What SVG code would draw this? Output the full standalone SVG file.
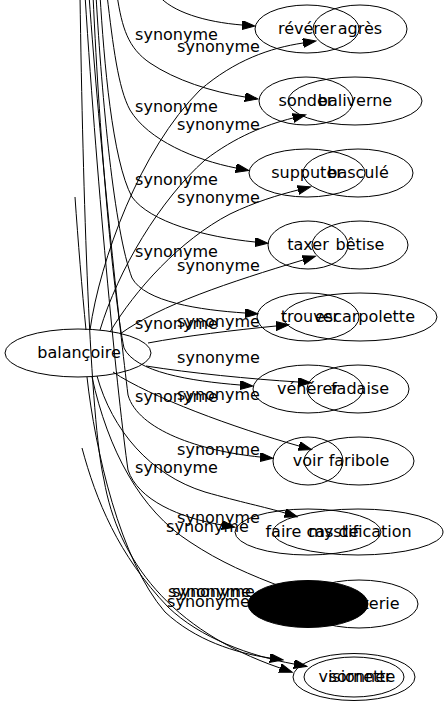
<svg xmlns="http://www.w3.org/2000/svg" width="447" height="707" viewBox="0 0 447 707">
<style>
text{font-family:"DejaVu Sans","Liberation Sans",sans-serif;font-size:16px;fill:#000;text-anchor:middle}
.n ellipse{fill:none;stroke:#000;stroke-width:1}
.e path{fill:none;stroke:#000;stroke-width:1}
.e path.a{marker-end:url(#ah)}
</style>
<defs>
<marker id="ah" markerUnits="userSpaceOnUse" markerWidth="14" markerHeight="10" refX="0" refY="4.5" orient="auto" viewBox="0 0 14 10">
<path d="M0,0 L13,4.5 L0,9 z" fill="#000" stroke="#000" stroke-width="1"/>
</marker>
</defs>
<rect width="447" height="707" fill="#fff"/>
<g id="connectors" class="e">
<path class="a" d="M158,-5 C172,12 205,22 242,25"/>
<path class="a" d="M117,-5 C122,28 128,48 150,63 C175,80 212,92 245,97"/>
<path class="a" d="M107,-5 C113,45 118,88 130,110 C148,140 195,160 236,168"/>
<path class="a" d="M100,-5 C104,60 112,160 132,197 C150,222 205,237 255,242"/>
<path class="a" d="M96,-5 C102,100 114,230 132,278 C145,302 200,310 245,313"/>
<path class="a" d="M93,-5 C100,150 114,300 124,348 C135,372 190,381 240,385"/>
<path class="a" d="M89,-5 C100,150 120,330 128,395 C138,430 200,451 260,457"/>
<path class="a" d="M85,-5 C98,200 118,400 128,470 C138,500 180,518 222,525"/>
<path class="a" d="M80,-5 C83,200 90,420 104,480 C118,560 170,630 280,668"/>
<path class="a" d="M90,330 C100,260 140,150 200,90 C235,60 270,48 303,43"/>
<path class="a" d="M100,330 C118,270 160,200 205,160 C235,137 265,125 293,118"/>
<path class="a" d="M110,332 C135,290 180,240 230,214 C255,202 278,195 298,190"/>
<path class="a" d="M120,334 C160,305 230,282 303,260"/>
<path class="a" d="M148,343 C185,336 235,330 276,326"/>
<path class="a" d="M146,366 C190,373 250,379 298,382"/>
<path class="a" d="M113,372 C150,397 235,428 299,446"/>
<path class="a" d="M97,376 C112,430 150,475 205,492 C240,502 265,507 285,513"/>
<path class="a" d="M92,377 C108,450 140,510 190,542 C220,562 250,575 285,588"/>
<path class="a" d="M87,377 C95,450 120,560 165,612 C195,640 235,653 270,658"/>
<path class="a" d="M82,448 C96,500 118,555 168,607 C200,638 250,656 294,664"/>
<path d="M75,197 C78,240 82,290 86,330"/>
<g id="edge-labels">
<text x="176.5" y="40">synonyme</text>
<text x="218.5" y="52">synonyme</text>
<text x="176.5" y="112">synonyme</text>
<text x="218.5" y="130">synonyme</text>
<text x="176.5" y="185">synonyme</text>
<text x="218.5" y="203">synonyme</text>
<text x="176.5" y="257">synonyme</text>
<text x="218.5" y="271">synonyme</text>
<text x="176.5" y="329">synonyme</text>
<text x="218.5" y="327">synonyme</text>
<text x="218.5" y="363">synonyme</text>
<text x="176.5" y="402">synonyme</text>
<text x="218.5" y="400">synonyme</text>
<text x="218.5" y="455">synonyme</text>
<text x="176.5" y="473">synonyme</text>
<text x="218.5" y="523">synonyme</text>
<text x="207.5" y="532">synonyme</text>
<text x="209.5" y="597">synonyme</text>
<text x="213.5" y="597">synonyme</text>
<text x="208.5" y="607">synonyme</text>
</g>
</g>
<g id="balancoire" class="n"><ellipse cx="78" cy="353" rx="73" ry="24"/><text x="79" y="358">balançoire</text></g>
<g id="agres" class="n"><ellipse cx="360" cy="29" rx="47" ry="24"/><text x="360" y="34">agrès</text></g>
<g id="reverer" class="n"><ellipse cx="307" cy="29" rx="52" ry="24"/><text x="307" y="34">révérer</text></g>
<g id="baliverne" class="n"><ellipse cx="355" cy="101" rx="67" ry="24"/><text x="355" y="106">baliverne</text></g>
<g id="sonder" class="n"><ellipse cx="306" cy="101" rx="47" ry="24"/><text x="306" y="106">sonder</text></g>
<g id="bascule" class="n"><ellipse cx="358" cy="173" rx="55" ry="24"/><text x="358" y="178">basculé</text></g>
<g id="supputer" class="n"><ellipse cx="307" cy="173" rx="58" ry="24"/><text x="307" y="178">supputer</text></g>
<g id="betise" class="n"><ellipse cx="360" cy="245" rx="48" ry="24"/><text x="360" y="250">bêtise</text></g>
<g id="taxer" class="n"><ellipse cx="308" cy="245" rx="40" ry="24"/><text x="308" y="250">taxer</text></g>
<g id="escarpolette" class="n"><ellipse cx="360" cy="317" rx="77" ry="24"/><text x="365" y="322">escarpolette</text></g>
<g id="trouver" class="n"><ellipse cx="308" cy="317" rx="51" ry="24"/><text x="310" y="322">trouver</text></g>
<g id="fadaise" class="n"><ellipse cx="358" cy="389" rx="51" ry="24"/><text x="360" y="394">fadaise</text></g>
<g id="venerer" class="n"><ellipse cx="308" cy="389" rx="55" ry="24"/><text x="308" y="394">vénérer</text></g>
<g id="faribole" class="n"><ellipse cx="359" cy="461" rx="55" ry="24"/><text x="359" y="466">faribole</text></g>
<g id="voir" class="n"><ellipse cx="308" cy="461" rx="35" ry="24"/><text x="308" y="466">voir</text></g>
<g id="mystification" class="n"><ellipse cx="358" cy="532" rx="85" ry="23"/><text x="360" y="537">mystification</text></g>
<g id="faire-cas-de" class="n"><ellipse cx="308" cy="532" rx="73" ry="23"/><text x="312" y="537">faire cas de</text></g>
<g id="fumisterie" class="n"><ellipse cx="359" cy="604" rx="59" ry="24"/><text x="359" y="609">fumisterie</text></g>
<g id="black-node" class="n"><ellipse cx="308" cy="604" rx="60" ry="23.5" style="fill:#000"/></g>
<g id="sornette" class="n"><ellipse cx="354" cy="677" rx="50" ry="20"/><text x="362" y="682">sornette</text></g>
<g id="visionner" class="n"><ellipse cx="354" cy="677" rx="61" ry="23.5"/><text x="355" y="682">visionner</text></g>
</svg>
